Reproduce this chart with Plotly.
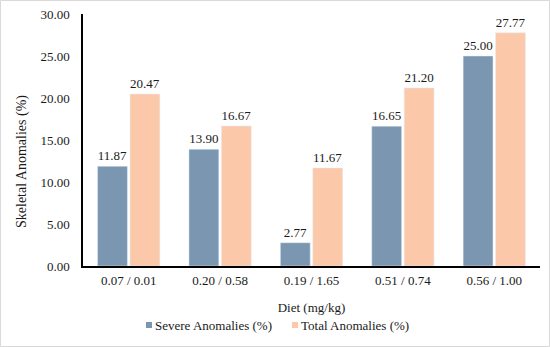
import plotly.graph_objects as go

categories = ["0.07 / 0.01", "0.20 / 0.58", "0.19 / 1.65", "0.51 / 0.74", "0.56 / 1.00"]
severe = [11.87, 13.90, 2.77, 16.65, 25.00]
total = [20.47, 16.67, 11.67, 21.20, 27.77]
y_ticks = [0, 5, 10, 15, 20, 25, 30]
series_names = ["Severe Anomalies (%)", "Total Anomalies (%)"]

font_family = "Liberation Serif"
txt_color = "#1a1a1a"
c_sev = "#7A96B1"
c_tot = "#FBC9AA"
colors = [c_sev, c_tot]

fig = go.Figure()
for nm, vals, col in zip(series_names, [severe, total], colors):
    fig.add_trace(go.Bar(
        x=categories, y=vals, name=nm,
        marker=dict(color=col), showlegend=False,
        texttemplate="%{y:.2f}", textposition="outside",
        textfont=dict(size=13, color=txt_color, family=font_family),
        cliponaxis=False,
    ))

W, H = 550, 347
ml, mr, mt, mb = 83, 10, 14, 81
pw, ph = W - ml - mr, H - mt - mb

def px_x(p):
    return (p - ml) / pw

def px_y(p):
    return (H - mb - p) / ph

shapes = [dict(type="rect", xref="paper", yref="paper",
               x0=px_x(0.5), x1=px_x(549.5), y0=px_y(346.5), y1=px_y(0.5),
               line=dict(color="#D9D9D9", width=1), layer="below")]
annotations = [
    dict(text="Skeletal Anomalies (%)", xref="paper", yref="paper",
         x=px_x(22), y=px_y(161), textangle=-90, showarrow=False,
         xanchor="center", yanchor="middle",
         font=dict(size=14, color=txt_color, family=font_family)),
]
# custom legend (small square swatches next to labels)
legend_pos = [(146, 152.5), (292, 299)]
for nm, col, (sx, tx) in zip(series_names, colors, legend_pos):
    shapes.append(dict(type="rect", xref="paper", yref="paper",
                       x0=px_x(sx), x1=px_x(sx + 6),
                       y0=px_y(328), y1=px_y(322),
                       fillcolor=col, line=dict(width=0)))
    annotations.append(dict(text=nm, xref="paper", yref="paper",
                            x=px_x(tx), y=px_y(325.5),
                            xanchor="left", yanchor="middle", showarrow=False,
                            font=dict(size=13, color=txt_color, family=font_family)))

fig.update_layout(
    width=W, height=H,
    margin=dict(l=ml, r=mr, t=mt, b=mb, autoexpand=False),
    paper_bgcolor="white", plot_bgcolor="white",
    font=dict(family=font_family, size=13, color=txt_color),
    barmode="group", bargap=0.29, bargroupgap=0.08,
    showlegend=False,
    xaxis=dict(showline=True, linecolor="black", linewidth=1.5,
               ticks="", showgrid=False, automargin=False,
               ticklabelstandoff=2,
               tickfont=dict(size=13, family=font_family, color=txt_color),
               title=dict(text="Diet (mg/kg)", standoff=16,
                          font=dict(size=13, color=txt_color, family=font_family))),
    yaxis=dict(range=[0, 30], tickvals=y_ticks,
               tickformat=".2f", showline=True, linecolor="black", linewidth=1.5,
               ticks="", showgrid=False, zeroline=False, automargin=False,
               ticklabelstandoff=9,
               tickfont=dict(size=13, family=font_family, color=txt_color)),
    shapes=shapes,
    annotations=annotations,
)

fig.write_html("out.html", config={"displayModeBar": False},
               post_script="document.body.style.margin='0';document.body.style.overflow='hidden';")
